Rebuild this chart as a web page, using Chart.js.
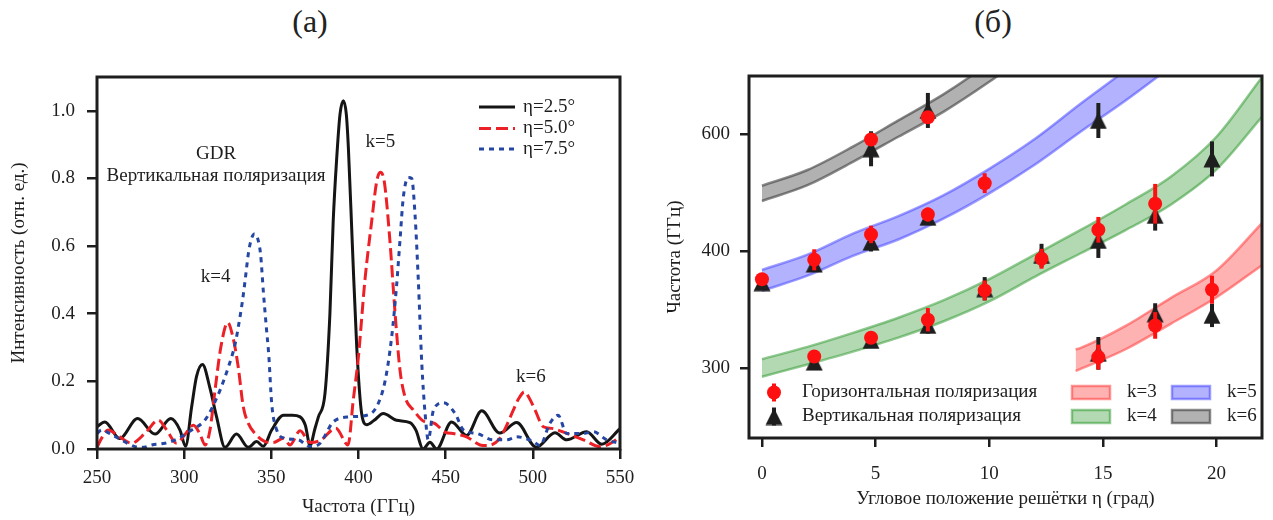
<!DOCTYPE html>
<html>
<head>
<meta charset="utf-8">
<script src="https://cdn.jsdelivr.net/npm/chart.js"></script>
<style>
  body { margin: 0; background: #fff; width: 1273px; height: 520px; overflow: hidden; position: relative;
         font-family: "Liberation Serif", "Times New Roman", serif; color: #222; }
  #ca { position: absolute; left: 0; top: 0; }
  #cb { position: absolute; left: 636px; top: 0; }
  .ttl { position: absolute; top: 2px; width: 120px; text-align: center; font-size: 32px; line-height: 38px; }
</style>
</head>
<body>
<div class="ttl" style="left:250px">(a)</div>
<div class="ttl" style="left:933px">(б)</div>
<canvas id="ca" width="636" height="520"></canvas>
<canvas id="cb" width="637" height="520"></canvas>
<script>
// ---- (a) spectra ----
const freqBlack = [250, 254.5, 263, 273.3, 283.3, 292.4, 297.6, 300.8, 304.3, 307.1, 310.5, 314.8, 318.6, 323.4, 330, 336.8, 341.6, 345.4, 350.2, 357, 362, 366.5, 369.5, 372.2, 375, 377, 380.8, 383.6, 385.5, 387.5, 389.4, 391.3, 393, 394.2, 396.5, 399, 401.8, 404.7, 409, 414.2, 421.8, 429.5, 433, 437, 441, 444.8, 453.4, 462, 470.7, 481, 490.7, 502, 512.7, 519.4, 530.9, 539.5, 550];
const intBlack = [0.066, 0.08, 0.031, 0.09, 0.044, 0.09, 0.056, 0.008, 0.125, 0.215, 0.25, 0.18, 0.095, 0.005, 0.044, 0.005, 0.022, 0.008, 0.056, 0.1, 0.1, 0.095, 0.07, 0.01, 0.06, 0.095, 0.165, 0.40, 0.675, 0.86, 0.99, 1.03, 0.99, 0.89, 0.60, 0.30, 0.105, 0.072, 0.085, 0.105, 0.085, 0.078, 0.055, 0.0, 0.02, 0.0, 0.08, 0.04, 0.113, 0.047, 0.078, 0.005, 0.048, 0.027, 0.051, 0.014, 0.06];

const freqRed = [250, 253, 256.3, 263, 269.8, 277.5, 285.2, 290, 295.7, 300, 305.3, 309, 312, 314.8, 317.7, 321, 325, 328, 331, 333.9, 336.8, 340.6, 346.4, 351, 357, 360.7, 366.5, 372.2, 378, 387, 394, 397, 399.9, 403.7, 407.6, 410.4, 412.5, 414.8, 418, 421, 423.8, 426.7, 431.5, 438.2, 443, 449.6, 455, 462, 469.7, 474, 481.2, 485, 488.8, 492, 495.2, 498, 501.3, 506, 510.9, 519.4, 529, 538.5, 544, 550];
const intRed = [0.005, 0.035, 0.056, 0.036, 0.017, 0.046, 0.085, 0.056, 0.017, 0.04, 0.07, 0.045, 0.012, 0.056, 0.174, 0.30, 0.374, 0.33, 0.243, 0.125, 0.076, 0.046, 0.022, 0.019, 0.032, 0.012, 0.054, 0.019, 0.025, 0.061, 0.012, 0.145, 0.27, 0.50, 0.675, 0.79, 0.818, 0.79, 0.617, 0.40, 0.233, 0.154, 0.115, 0.08, 0.077, 0.05, 0.045, 0.036, 0.012, 0.01, 0.032, 0.07, 0.115, 0.15, 0.169, 0.15, 0.115, 0.066, 0.061, 0.046, 0.027, 0.007, 0.015, 0.036];

const freqBlue = [250, 252.7, 257.5, 264, 271.8, 277, 281.4, 289, 296.6, 304.3, 311, 313.8, 318.6, 320.6, 325.4, 329.2, 332, 333.5, 335, 336.8, 338.5, 340.3, 342.3, 343.8, 345.5, 347.3, 348.5, 350.2, 353.1, 357.8, 365.5, 372.2, 378, 385.5, 395, 404.7, 410.4, 415.2, 419, 421.8, 423.8, 425.7, 428.6, 430.5, 432.4, 434.3, 436.3, 438.2, 440, 443, 448.7, 455.4, 460.2, 467.8, 477.3, 485, 490.7, 500.3, 504, 509.8, 514.5, 519.4, 529, 534.7, 542.4, 550];
const intBlue = [0.046, 0.056, 0.045, 0.027, 0.007, 0.005, 0.012, 0.017, 0.031, 0.056, 0.08, 0.1, 0.15, 0.174, 0.243, 0.31, 0.39, 0.44, 0.50, 0.577, 0.62, 0.636, 0.62, 0.577, 0.46, 0.35, 0.28, 0.135, 0.056, 0.032, 0.027, 0.007, 0.017, 0.08, 0.095, 0.1, 0.125, 0.2, 0.33, 0.48, 0.617, 0.744, 0.803, 0.80, 0.695, 0.50, 0.253, 0.105, 0.027, 0.115, 0.137, 0.105, 0.056, 0.046, 0.027, 0.027, 0.036, 0.022, 0.01, 0.076, 0.1, 0.046, 0.046, 0.051, 0.027, 0.017];

const xTicksA = [250, 300, 350, 400, 450, 500, 550];
const yTicksA = [0, 0.2, 0.4, 0.6, 0.8, 1.0];

// ---- (б) measured frequencies vs grating angle ----
const etaHor  = [0, 2.3, 2.3, 4.8, 4.8, 4.8, 7.3, 7.3, 7.3, 9.8, 9.8, 12.3, 14.8, 17.3, 14.8, 17.3, 19.8];
const freqHor = [376, 392.6, 309.8, 495.6, 414.3, 325.9, 514.7, 431.4, 341.3, 458.2, 366.4, 393.5, 418.3, 440.6, 309.3, 336.4, 367];
const errHor  = [4, 9, 4, 5, 7.5, 5, 5, 6, 10, 8.5, 8.5, 8.5, 11, 17, 10.7, 11.4, 12];

const etaVer  = [0, 2.3, 2.3, 4.8, 4.8, 4.8, 7.3, 7.3, 7.3, 9.8, 12.3, 14.8, 14.8, 17.3, 19.8, 14.8, 17.3, 19.8];
const freqVer = [373, 389, 305, 487.7, 407.7, 323.5, 520.5, 429, 336.4, 367.8, 396.3, 511.9, 409.2, 430.6, 479, 312.5, 346.4, 345];
const errVer  = [4, 5, 4, 15, 8, 4, 15, 5, 7, 10, 10, 15, 15, 13, 15, 14, 9, 10];

// bands (lower / upper edge) for each order k
const bandEta3 = [13.8, 14, 16, 18, 20, 22];
const bandLow3 = [297.4, 299, 316, 338, 360.5, 388];
const bandUp3  = [315.8, 317, 336, 360, 383.5, 424];
const bandEta4 = [0, 2, 4, 6, 8, 10, 12, 14, 16, 18, 20, 22];
const bandLow4 = [292.5, 303, 314, 326, 340, 357, 378, 398, 418, 440, 470, 515];
const bandUp4  = [307.5, 318, 330, 343, 358, 376, 397, 418, 440, 464, 498, 549];
const bandEta5 = [0, 2, 4, 6, 8, 10, 12, 14, 16, 18];
const bandLow5 = [366, 379, 396, 410, 428, 449.5, 474, 502, 529, 558];
const bandUp5  = [384, 397, 415, 430, 448, 470.5, 496, 526, 555, 586];
const bandEta6 = [0, 2, 4, 6, 8, 10, 12];
const bandLow6 = [443, 456.5, 476.5, 498, 519.5, 545, 573];
const bandUp6  = [456, 469.5, 489.5, 512, 534.5, 561, 591];

const xTicksB = [0, 5, 10, 15, 20];
const yTicksB = [300, 400, 500];
const yLabelsB = ['300', '400', '600'];   // tick text as printed on the figure

const INK = '#1e1e1e';
const FAM = '"Liberation Serif", "Times New Roman", serif';
const FONT = {family: FAM, size: 19};
const CSSFONT = '19px ' + FAM;

function pts(xs, ys) { return xs.map((x, i) => ({x: x, y: ys[i]})); }
// keep the plot area where the layout puts it (no extra room for end labels)
function noOverflow(s) { s.paddingLeft = 0; s.paddingRight = 0; s.paddingTop = 0; s.paddingBottom = 0; }

// box round the plot area
const frame = {
  id: 'frame',
  afterDraw(chart) {
    const {ctx, chartArea: a} = chart;
    ctx.save();
    ctx.strokeStyle = INK;
    ctx.lineWidth = 3;
    ctx.strokeRect(a.left, a.top, a.right - a.left, a.bottom - a.top);
    ctx.restore();
  }
};

// ================= (a) =================
const notesA = [
  {text: 'GDR', f: 318.3, v: 0.873},
  {text: 'Вертикальная поляризация', f: 318.3, v: 0.808},
  {text: 'k=4', f: 318.1, v: 0.51},
  {text: 'k=5', f: 412.6, v: 0.909},
  {text: 'k=6', f: 498.9, v: 0.2115}
];

const notesPlugin = {
  id: 'notes',
  afterDraw(chart) {
    const {ctx, scales} = chart;
    ctx.save();
    ctx.font = CSSFONT;
    ctx.fillStyle = INK;
    ctx.textAlign = 'center';
    ctx.textBaseline = 'middle';
    notesA.forEach(n => ctx.fillText(n.text, scales.x.getPixelForValue(n.f), scales.y.getPixelForValue(n.v)));
    ctx.restore();
  }
};

const legendA = {
  id: 'legendA',
  afterDraw(chart) {
    const ctx = chart.ctx;
    const rows = [107, 128.5, 149];
    ctx.save();
    chart.data.datasets.forEach((ds, i) => {
      ctx.strokeStyle = ds.borderColor;
      ctx.lineWidth = ds.borderWidth;
      ctx.setLineDash(ds.borderDash || []);
      ctx.beginPath();
      ctx.moveTo(479, rows[i]);
      ctx.lineTo(515, rows[i]);
      ctx.stroke();
      ctx.setLineDash([]);
      ctx.font = CSSFONT;
      ctx.fillStyle = INK;
      ctx.textAlign = 'left';
      ctx.textBaseline = 'middle';
      ctx.fillText(ds.label, 523, rows[i]);
    });
    ctx.restore();
  }
};

new Chart(document.getElementById('ca'), {
  type: 'line',
  data: {
    datasets: [
      {label: 'η=2.5°', data: pts(freqBlack, intBlack), borderColor: '#151515', borderWidth: 3, order: 3},
      {label: 'η=5.0°', data: pts(freqRed, intRed), borderColor: '#ec2127', borderWidth: 3, borderDash: [12, 5], order: 2},
      {label: 'η=7.5°', data: pts(freqBlue, intBlue), borderColor: '#2547a3', borderWidth: 3, borderDash: [5, 5], order: 1}
    ]
  },
  options: {
    responsive: false,
    animation: false,
    events: [],
    layout: {padding: {top: 77, right: 16, left: 0, bottom: 0}},
    plugins: {legend: {display: false}, tooltip: {enabled: false}},
    elements: {
      point: {radius: 0},
      line: {cubicInterpolationMode: 'monotone', borderCapStyle: 'butt', borderJoinStyle: 'round'}
    },
    scales: {
      x: {
        type: 'linear', min: 250, max: 550,
        afterBuildTicks: s => { s.ticks = xTicksA.map(v => ({value: v})); },
        afterFit: s => { s.height = 71; noOverflow(s); },
        grid: {drawOnChartArea: false, color: INK, tickLength: 10, lineWidth: 2.5},
        border: {display: false},
        ticks: {font: FONT, color: INK, padding: 8, maxRotation: 0},
        title: {display: true, text: 'Частота (ГГц)', font: FONT, color: INK, padding: {top: 0, bottom: 2}}
      },
      y: {
        min: 0, max: 1.1,
        afterBuildTicks: s => { s.ticks = yTicksA.map(v => ({value: v})); },
        afterFit: s => { s.width = 97; noOverflow(s); },
        grid: {drawOnChartArea: false, color: INK, tickLength: 10, lineWidth: 2.5},
        border: {display: false},
        ticks: {font: FONT, color: INK, padding: 12, callback: v => v.toFixed(1)},
        title: {display: true, text: 'Интенсивность (отн. ед.)', font: FONT, color: INK, padding: {top: 8, bottom: 0}}
      }
    }
  },
  plugins: [frame, notesPlugin, legendA]
});

// ================= (б) =================
// matplotlib-like "^" marker
const tri = document.createElement('canvas');
tri.width = 18; tri.height = 18;
(function () {
  const c = tri.getContext('2d');
  c.fillStyle = INK;
  c.beginPath();
  c.moveTo(9, 0.5);
  c.lineTo(17.5, 17.5);
  c.lineTo(0.5, 17.5);
  c.closePath();
  c.fill();
})();

const RED = '#ff1010';

const errorBars = {
  id: 'errorBars',
  beforeDatasetDraw(chart, args) {
    const ds = chart.data.datasets[args.index];
    if (!ds.yErr) return;
    const {ctx, scales} = chart;
    ctx.save();
    ctx.strokeStyle = ds.errColor;
    ctx.lineWidth = 4;
    ds.data.forEach((p, i) => {
      const x = scales.x.getPixelForValue(p.x);
      ctx.beginPath();
      ctx.moveTo(x, scales.y.getPixelForValue(p.y - ds.yErr[i]));
      ctx.lineTo(x, scales.y.getPixelForValue(p.y + ds.yErr[i]));
      ctx.stroke();
    });
    ctx.restore();
  }
};

const bandColors = {
  3: {fill: 'rgba(255,0,0,0.3)', edge: 'rgba(255,60,60,0.55)'},
  4: {fill: 'rgba(0,128,0,0.3)', edge: 'rgba(40,150,40,0.5)'},
  5: {fill: 'rgba(0,0,255,0.3)', edge: 'rgba(60,60,255,0.5)'},
  6: {fill: 'rgba(60,60,60,0.4)', edge: 'rgba(60,60,60,0.6)'}
};

function band(k, eta, low, up) {
  const c = bandColors[k];
  return [
    {label: 'k=' + k + ' low', data: pts(eta, low), borderColor: c.edge, borderWidth: 2.5, fill: false, order: 5},
    {label: 'k=' + k, data: pts(eta, up), borderColor: c.edge, borderWidth: 2.5, fill: '-1', backgroundColor: c.fill, order: 5}
  ];
}

const legendB = {
  id: 'legendB',
  afterDraw(chart) {
    const ctx = chart.ctx;
    ctx.save();
    ctx.font = CSSFONT;
    ctx.fillStyle = INK;
    ctx.textBaseline = 'middle';
    ctx.textAlign = 'left';
    // markers
    const mx = 138, r1 = 392.5, r2 = 416.5;
    ctx.lineWidth = 4;
    ctx.strokeStyle = RED;
    ctx.beginPath(); ctx.moveTo(mx, r1 - 9); ctx.lineTo(mx, r1 + 9); ctx.stroke();
    ctx.fillStyle = RED;
    ctx.beginPath(); ctx.arc(mx, r1, 7, 0, Math.PI * 2); ctx.fill();
    ctx.strokeStyle = INK;
    ctx.beginPath(); ctx.moveTo(mx, r2 - 9); ctx.lineTo(mx, r2 + 9); ctx.stroke();
    ctx.drawImage(tri, mx - 9, r2 - 9);
    ctx.fillStyle = INK;
    ctx.fillText('Горизонтальная поляризация', 166, r1);
    ctx.fillText('Вертикальная поляризация', 166, r2);
    // band swatches
    const sw = [
      {k: 3, x: 436, y: r1}, {k: 5, x: 536, y: r1},
      {k: 4, x: 436, y: r2}, {k: 6, x: 536, y: r2}
    ];
    sw.forEach(s => {
      const c = bandColors[s.k];
      ctx.fillStyle = c.fill;
      ctx.fillRect(s.x, s.y - 6.5, 38, 13);
      ctx.strokeStyle = c.edge;
      ctx.lineWidth = 2.5;
      ctx.strokeRect(s.x, s.y - 6.5, 38, 13);
      ctx.fillStyle = INK;
      ctx.fillText('k=' + s.k, s.x + 55, s.y);
    });
    ctx.restore();
  }
};

new Chart(document.getElementById('cb'), {
  type: 'line',
  data: {
    datasets: [
      ...band(3, bandEta3, bandLow3, bandUp3),
      ...band(4, bandEta4, bandLow4, bandUp4),
      ...band(5, bandEta5, bandLow5, bandUp5),
      ...band(6, bandEta6, bandLow6, bandUp6),
      {label: 'Вертикальная поляризация', data: pts(etaVer, freqVer), yErr: errVer, errColor: INK,
       showLine: false, pointStyle: tri, pointRadius: 9, order: 1},
      {label: 'Горизонтальная поляризация', data: pts(etaHor, freqHor), yErr: errHor, errColor: RED,
       showLine: false, pointStyle: 'circle', pointRadius: 7, pointBackgroundColor: RED, pointBorderColor: RED,
       pointBorderWidth: 0, order: 0}
    ]
  },
  options: {
    responsive: false,
    animation: false,
    events: [],
    layout: {padding: {top: 76, right: 11, left: 0, bottom: 0}},
    plugins: {legend: {display: false}, tooltip: {enabled: false}, filler: {propagate: false}},
    elements: {
      point: {radius: 0},
      line: {cubicInterpolationMode: 'monotone'}
    },
    scales: {
      x: {
        type: 'linear', min: -0.57, max: 22,
        afterBuildTicks: s => { s.ticks = xTicksB.map(v => ({value: v})); },
        afterFit: s => { s.height = 82; noOverflow(s); },
        grid: {drawOnChartArea: false, color: INK, tickLength: 9, lineWidth: 2.5},
        border: {display: false},
        ticks: {font: FONT, color: INK, padding: 16, maxRotation: 0},
        title: {display: true, text: 'Угловое положение решётки η (град)', font: FONT, color: INK, padding: {top: 0, bottom: 10}}
      },
      y: {
        min: 240, max: 550,
        afterBuildTicks: s => { s.ticks = yTicksB.map(v => ({value: v})); },
        afterFit: s => { s.width = 113; noOverflow(s); },
        grid: {drawOnChartArea: false, color: INK, tickLength: 9, lineWidth: 2.5},
        border: {display: false},
        ticks: {font: FONT, color: INK, padding: 10, callback: v => yLabelsB[yTicksB.indexOf(v)]},
        title: {display: true, text: 'Частота (ГГц)', font: FONT, color: INK, padding: {top: 28, bottom: 0}}
      }
    }
  },
  plugins: [errorBars, frame, legendB]
});
</script>
</body>
</html>
